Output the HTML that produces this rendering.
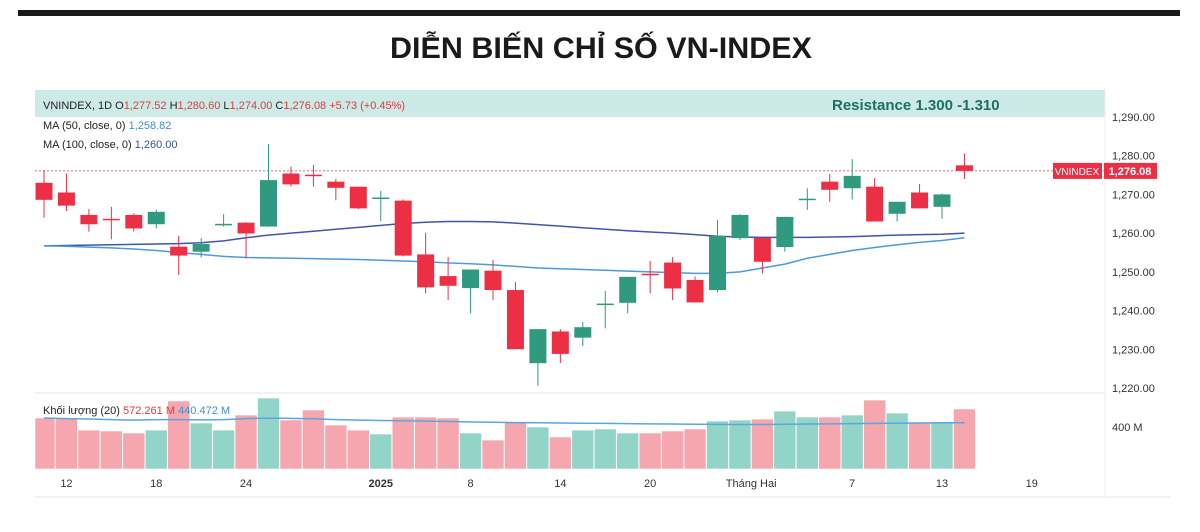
<!DOCTYPE html>
<html><head><meta charset="utf-8">
<style>
body{margin:0;background:#fff;width:1200px;height:527px;overflow:hidden;font-family:"Liberation Sans","Noto Sans CJK SC",sans-serif;}
</style></head>
<body>
<svg width="1200" height="527" xmlns="http://www.w3.org/2000/svg" id="chart">
<rect x="18" y="10" width="1162" height="6" fill="#1a1a1a"/>
<text x="601" y="58" text-anchor="middle" font-size="30" font-weight="bold" fill="#1a1a1a" textLength="422" lengthAdjust="spacingAndGlyphs">DIỄN BIẾN CHỈ SỐ VN-INDEX</text>
<rect x="35" y="90" width="1070" height="27" fill="#cdebe6"/>
<line x1="1105" y1="88" x2="1105" y2="497" stroke="#eee"/>
<line x1="35" y1="393" x2="1105" y2="393" stroke="#e6e6e6"/>
<line x1="35" y1="497" x2="1170" y2="497" stroke="#e6e6e6"/>
<g id="g"></g>
<text x="43" y="109" font-size="11" fill="#222">VNINDEX, 1D  O<tspan fill="#e5383b">1,277.52</tspan>  H<tspan fill="#e5383b">1,280.60</tspan>  L<tspan fill="#e5383b">1,274.00</tspan>  C<tspan fill="#e5383b">1,276.08</tspan>  <tspan fill="#e5383b">+5.73 (+0.45%)</tspan></text>
<text x="832" y="110" font-size="15" font-weight="bold" fill="#1e6e64">Resistance 1.300 -1.310</text>
<text x="43" y="129" font-size="11" fill="#222">MA (50, close, 0)  <tspan fill="#3d8fd6">1,258.82</tspan></text>
<text x="43" y="148" font-size="11" fill="#222">MA (100, close, 0)  <tspan fill="#3550a8">1,260.00</tspan></text>
<text x="43" y="414" font-size="11" fill="#222">Khối lượng (20)  <tspan fill="#e5383b">572.261 M</tspan>  <tspan fill="#3d8fd6">440.472 M</tspan></text>
</svg>
<script>
const opens=[1273.0,1270.5,1264.7,1263.7,1264.7,1262.3,1256.5,1255.2,1262.2,1262.7,1261.7,1275.4,1275.1,1273.3,1272.0,1269.0,1268.4,1254.5,1248.9,1245.8,1250.3,1245.3,1226.4,1234.6,1233.0,1241.5,1242.0,1249.5,1252.4,1247.9,1245.3,1258.7,1258.8,1256.4,1268.6,1273.3,1271.6,1272.0,1265.0,1270.5,1266.8,1277.52];
const highs=[1276.3,1275.4,1266.2,1266.8,1265.1,1266.1,1259.3,1258.7,1264.9,1262.8,1283.0,1277.2,1277.6,1274.0,1272.0,1270.9,1268.7,1260.1,1253.8,1250.6,1253.1,1247.4,1235.2,1235.2,1237.1,1245.1,1248.7,1252.8,1253.8,1248.8,1263.4,1264.9,1258.8,1264.2,1271.6,1275.3,1279.1,1274.2,1268.1,1272.7,1270.3,1280.6];
const lows=[1264.0,1265.7,1260.4,1258.4,1260.4,1261.2,1249.2,1253.7,1261.7,1253.5,1261.6,1272.0,1272.0,1268.5,1266.2,1263.1,1254.0,1244.4,1242.7,1239.3,1242.7,1230.0,1220.6,1226.4,1230.8,1235.4,1239.3,1244.4,1242.7,1242.1,1244.7,1258.2,1249.6,1255.2,1266.0,1268.1,1268.7,1263.0,1263.0,1266.4,1263.7,1274.0];
const closes=[1268.6,1267.1,1262.3,1263.5,1261.2,1265.5,1254.2,1257.2,1262.4,1259.9,1273.7,1272.6,1274.9,1271.7,1266.4,1269.2,1254.2,1246.0,1246.4,1250.6,1245.3,1230.0,1235.2,1228.8,1235.7,1241.8,1248.7,1249.2,1245.7,1242.1,1259.3,1264.7,1252.6,1264.2,1268.9,1271.2,1274.8,1263.0,1268.1,1266.4,1270.0,1276.08];
const ma100=[1256.7,1256.8,1256.9,1257.0,1257.1,1257.2,1257.3,1257.5,1258.0,1258.8,1259.5,1260.0,1260.5,1261.0,1261.5,1262.0,1262.5,1262.8,1263.0,1263.0,1262.9,1262.6,1262.2,1261.8,1261.4,1261.0,1260.6,1260.3,1260.0,1259.6,1259.2,1259.0,1258.9,1258.9,1258.9,1259.0,1259.1,1259.3,1259.5,1259.6,1259.7,1260.0];
const ma50=[1256.7,1256.6,1256.4,1256.2,1255.9,1255.5,1255.0,1254.5,1254.0,1253.7,1253.6,1253.5,1253.4,1253.3,1253.2,1253.0,1252.8,1252.6,1252.3,1252.1,1251.8,1251.4,1251.0,1250.8,1250.6,1250.4,1250.2,1250.0,1249.8,1249.6,1249.6,1250.0,1251.0,1252.0,1253.5,1254.5,1255.5,1256.3,1257.0,1257.6,1258.1,1258.8];
const volumes=[486,486,371,362,343,371,648,438,371,514,676,467,562,419,371,333,495,495,486,343,276,448,400,305,371,381,343,343,362,381,457,467,476,552,495,495,514,657,533,438,448,572];
const volMA=[486,480,476,470,465,470,470,468,470,480,485,482,478,470,465,462,460,456,452,448,445,442,440,438,436,434,432,430,428,426,425,424,424,426,428,430,432,434,436,438,440,440];
const priceTicks=[1290,1280,1270,1260,1250,1240,1230,1220];
const xLabels=["12","18","24","2025","8","14","20","Tháng Hai","7","13","19"];
const xLabelIdx=[1,5,9,15,19,23,27,31.5,36,40,44];

const g=document.getElementById('g');
const NS='http://www.w3.org/2000/svg';
const xS=i=>44+i*22.45;
const yS=v=>117+(1290-v)*3.871;
const vS=v=>469-v*42/400;
function mk(t,a){const e=document.createElementNS(NS,t);for(const k in a)e.setAttribute(k,a[k]);g.appendChild(e);return e;}
const RED='#ec2f45',GRN='#2f9a7f',RV='#f5a6ae',GV='#93d4c8';
priceTicks.forEach(p=>{const t=mk('text',{x:1112,y:yS(p)+4,'font-size':11,fill:'#333'});t.textContent=p.toLocaleString('en-US',{minimumFractionDigits:2});

});
const vt=mk('text',{x:1112,y:vS(400)+4,'font-size':11,fill:'#333'});vt.textContent='400 M';


volumes.forEach((v,i)=>{const up=closes[i]>=opens[i];const x0=Math.max(35,xS(i)-11);const r=mk('rect',{x:x0,y:vS(v),width:xS(i)+11-x0,height:469-vS(v),fill:up?GV:RV,stroke:'#fff','stroke-width':0.6});

});
const vl=mk('polyline',{points:volMA.map((v,i)=>xS(i)+','+vS(v)).join(' '),fill:'none',stroke:'#5aa7e0','stroke-width':1.5});


const last=closes[closes.length-1];
const pl=mk('line',{x1:35,x2:1105,y1:yS(last),y2:yS(last),stroke:'#ec2f45','stroke-width':0.8,'stroke-dasharray':'2,2'});


const m1=mk('polyline',{points:ma100.map((v,i)=>xS(i)+','+yS(v)).join(' '),fill:'none',stroke:'#3f56a8','stroke-width':1.5});


const m2=mk('polyline',{points:ma50.map((v,i)=>xS(i)+','+yS(v)).join(' '),fill:'none',stroke:'#4c9ad8','stroke-width':1.5});


opens.forEach((o,i)=>{const c=closes[i];const col=c>=o?GRN:RED;const x=xS(i);
const w=mk('line',{x1:x,x2:x,y1:yS(highs[i]),y2:yS(lows[i]),stroke:col,'stroke-width':1});


const t=Math.min(yS(o),yS(c));const h=Math.max(1.5,Math.abs(yS(o)-yS(c)));
const b=mk('rect',{x:x-8.5,y:t,width:17,height:h,fill:col});

});
const tg1=mk('rect',{x:1053,y:yS(last)-8,width:49,height:16,fill:RED});


const tt1=mk('text',{x:1077,y:yS(last)+4,'font-size':10,fill:'#fff','text-anchor':'middle'});tt1.textContent='VNINDEX';


const tg2=mk('rect',{x:1104,y:yS(last)-8,width:53,height:16,fill:RED});


const tt2=mk('text',{x:1130,y:yS(last)+4,'font-size':11,fill:'#fff','text-anchor':'middle','font-weight':'bold'});tt2.textContent=last.toLocaleString('en-US',{minimumFractionDigits:2});


xLabels.forEach((l,k)=>{const t=mk('text',{x:xS(xLabelIdx[k]),y:487,'font-size':11,fill:'#333','text-anchor':'middle','font-weight':l==='2025'?'bold':'normal'});t.textContent=l;

});
</script>
</body></html>
